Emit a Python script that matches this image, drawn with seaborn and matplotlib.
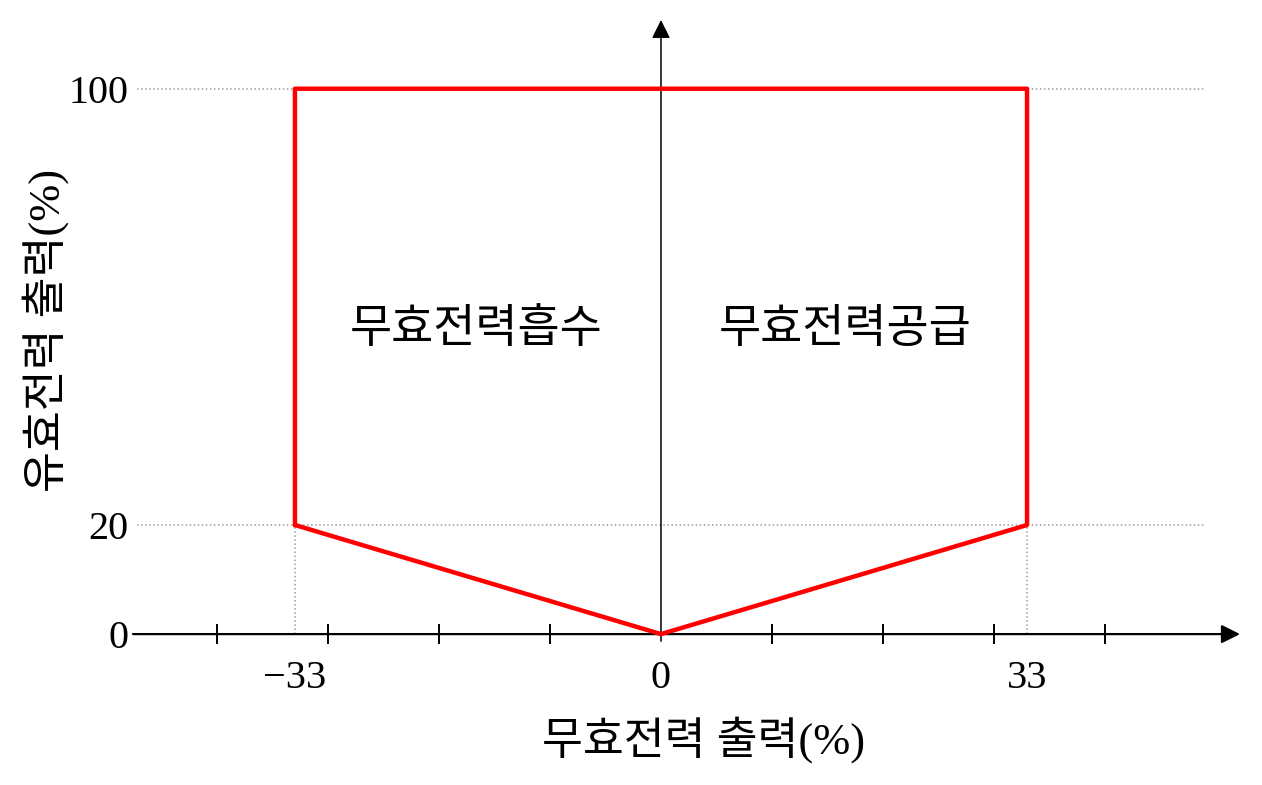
import matplotlib.pyplot as plt
import numpy as np
import pandas as pd
import seaborn as sns

# operating region outline (reactive power %, active power %)
q_out = [-33, -33, 33, 33, 0, -33]
p_out = [20, 100, 100, 20, 0, 20]

x_ticklabels = ['\u221233', '0', '33']
x_tickpos = [-33, 0, 33]
x_minor = [-40, -30, -20, -10, 10, 20, 30, 40]
y_tickpos = [0, 20, 100]
region_labels = ['무효전력흡수', '무효전력공급']

sns.set_theme(style='white')
plt.rcParams['font.family'] = ['Liberation Serif', 'Noto Sans CJK KR']
plt.rcParams['text.color'] = 'black'
plt.rcParams['xtick.color'] = 'black'
plt.rcParams['ytick.color'] = 'black'

fig = plt.figure(figsize=(12.62, 7.85), dpi=100)
ax = fig.add_axes([133 / 1262, 1 - 645 / 785, (1240 - 133) / 1262, (645 - 20) / 785])

df = pd.DataFrame({'q': q_out, 'p': p_out})
sns.lineplot(data=df, x='q', y='p', sort=False, estimator=None,
             color='#ff0000', lw=3.2, ax=ax, zorder=3)

ax.set_xlim(-47.6, 52.2)
ax.set_ylim(-2, 112.6)

# dotted guides
for yv in [20, 100]:
    ax.hlines(yv, -47.2, 49, colors='#999999', linestyles=':', lw=1.1, zorder=1)
for xv in [-33, 33]:
    ax.vlines(xv, 0, 20, colors='#999999', linestyles=':', lw=1.1, zorder=1)

for s in ax.spines.values():
    s.set_visible(False)
ax.spines['bottom'].set_position(('data', 0))

# axis lines with arrows
ax.annotate('', xy=(52.2, 0), xytext=(-47.6, 0),
            arrowprops=dict(arrowstyle='-|>', color='black', lw=1.6,
                            mutation_scale=28, shrinkA=0, shrinkB=0), zorder=2)
ax.annotate('', xy=(0, 112.6), xytext=(0, -1.3),
            arrowprops=dict(arrowstyle='-|>', color='black', lw=1.1,
                            mutation_scale=28, shrinkA=0, shrinkB=0), zorder=2)

ax.set_xticks(x_tickpos)
ax.set_xticklabels(x_ticklabels)
ax.set_xticks(x_minor, minor=True)
ax.tick_params(axis='x', which='major', length=0, pad=19, labelsize=29)
ax.tick_params(axis='x', which='minor', direction='inout', length=15,
               width=1.4, color='black', bottom=True)
ax.set_yticks(y_tickpos)
ax.set_yticklabels([str(v) for v in y_tickpos])
ax.tick_params(axis='y', length=0, pad=3, labelsize=29)
ax.set_xlabel('')
ax.set_ylabel('')

ax.text(-16.7, 56, region_labels[0], ha='center', va='center', fontsize=33,
        family=['Noto Sans CJK KR'], color='black')
ax.text(16.6, 56, region_labels[1], ha='center', va='center', fontsize=33,
        family=['Noto Sans CJK KR'], color='black')

fig.text(704 / 1262, 1 - 740 / 785, '무효전력 출력(%)', ha='center', va='center',
         fontsize=32, color='black')
fig.text(46 / 1262, 1 - 330 / 785, '유효전력 출력(%)', ha='center', va='center',
         fontsize=32, rotation=90, color='black')

fig.savefig('out.png', dpi=100, facecolor='white')
